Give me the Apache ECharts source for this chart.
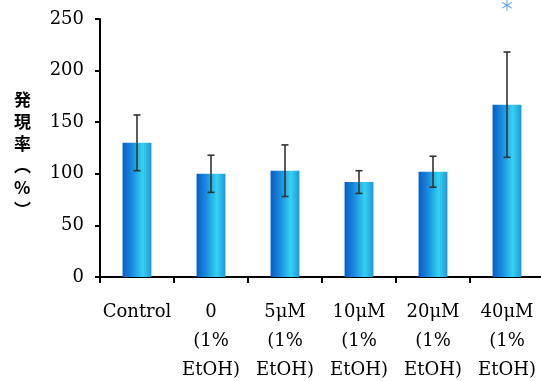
<!DOCTYPE html>
<html>
<head>
<meta charset="utf-8">
<script src="https://cdn.jsdelivr.net/npm/echarts@6/dist/echarts.min.js"></script>
<style>
  html, body { margin: 0; padding: 0; background: #fff; }
  #chart { width: 541px; height: 381px; }
</style>
</head>
<body>
<div id="chart"></div>
<script>
// Expression rate (%) per treatment group, mean ± SD
const categories = ['Control', '0\n(1%\nEtOH)', '5μM\n(1%\nEtOH)', '10μM\n(1%\nEtOH)', '20μM\n(1%\nEtOH)', '40μM\n(1%\nEtOH)'];
const means = [130, 100, 103, 92, 102, 167];
const errors = [27, 18, 25, 11, 15, 51];
// Significance marker above the 40μM group
const sigMarks = [null, null, null, null, null, 263];
const yTicks = { min: 0, max: 250, interval: 50 };
const yTitle = '発\n現\n率\n︵\n%\n︶';

const serif = 'DejaVu Serif';
const chart = echarts.init(document.getElementById('chart'));

const barGradient = new echarts.graphic.LinearGradient(0, 0, 1, 0, [
  { offset: 0, color: '#0a5cc2' },
  { offset: 0.35, color: '#1a8fe0' },
  { offset: 0.7, color: '#36d2f0' },
  { offset: 1, color: '#1c98dc' }
]);

chart.setOption({
  animation: false,
  grid: { left: 100, top: 19, width: 444, height: 258, outerBoundsMode: 'none', containLabel: false },
  // Vertical y-axis title, stacked one character per line
  graphic: [{
    type: 'text',
    left: 14,
    top: 89,
    style: {
      text: yTitle,
      fill: '#000',
      font: 'bold 17px "Noto Sans CJK JP"',
      lineHeight: 22,
      align: 'center'
    }
  }],
  xAxis: {
    type: 'category',
    data: categories,
    axisLine: { lineStyle: { color: '#000', width: 2 } },
    axisTick: { show: true, length: 6, lineStyle: { color: '#000', width: 2 } },
    axisLabel: {
      color: '#000', fontFamily: serif, fontSize: 18, lineHeight: 29,
      margin: 21, interval: 0
    }
  },
  yAxis: {
    type: 'value',
    min: yTicks.min, max: yTicks.max, interval: yTicks.interval,
    splitLine: { show: false },
    axisLine: { show: true, lineStyle: { color: '#000', width: 2 } },
    axisTick: { show: true, length: 5, lineStyle: { color: '#000', width: 2 } },
    axisLabel: { color: '#000', fontFamily: serif, fontSize: 18, margin: 16 }
  },
  series: [
    {
      type: 'bar',
      data: means,
      barWidth: '39%',
      itemStyle: { color: barGradient }
    },
    {
      type: 'custom',
      data: means.map((m, i) => [i, m - errors[i], m + errors[i]]),
      renderItem: function (params, api) {
        const lo = api.coord([api.value(0), api.value(1)]);
        const hi = api.coord([api.value(0), api.value(2)]);
        const cap = 3.5;
        const style = { stroke: '#333', lineWidth: 1.6 };
        return {
          type: 'group',
          children: [
            { type: 'line', shape: { x1: hi[0], y1: hi[1], x2: lo[0], y2: lo[1] }, style },
            { type: 'line', shape: { x1: hi[0] - cap, y1: hi[1], x2: hi[0] + cap, y2: hi[1] }, style },
            { type: 'line', shape: { x1: lo[0] - cap, y1: lo[1], x2: lo[0] + cap, y2: lo[1] }, style }
          ]
        };
      },
      z: 3
    },
    {
      type: 'scatter',
      data: sigMarks,
      clip: false,
      symbolSize: 0,
      label: {
        show: true, position: 'inside', formatter: '＊',
        color: '#3a8fe6', fontFamily: 'Noto Sans CJK JP', fontSize: 15
      }
    }
  ]
});
</script>
</body>
</html>
